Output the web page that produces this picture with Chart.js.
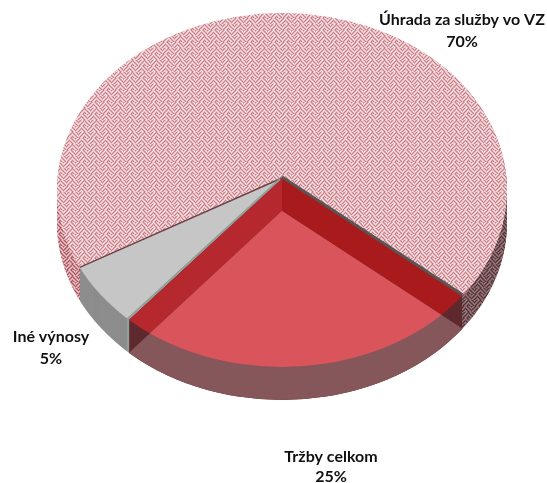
<!DOCTYPE html>
<html><head><meta charset="utf-8">
<style>html,body{margin:0;padding:0;background:#fff}canvas{display:block}</style>
<script src="https://cdn.jsdelivr.net/npm/chart.js@4"></script>
</head><body><canvas id="c" width="547" height="483"></canvas>
<script>
const categories = ["Úhrada za služby vo VZ", "Tržby celkom", "Iné výnosy"];
const shares = [70, 25, 5];
const percentLabels = ["70%", "25%", "5%"];

const firstAngle = 238, depth = 33;
const rimDY = 12, rimRX = 225, rimRY = 177;            // the drawn rim, lower than the apex (perspective)
const overscan = 1.18;
const labelSpots = [{x:462,y:20,py:42},{x:331,y:457,py:477},{x:51,y:337,py:359}];

function tile(dark, mid, light){
  const t = document.createElement('canvas'); t.width = 12; t.height = 12;
  const g = t.getContext('2d');
  const cols = [dark, mid, light, mid];
  for (let x=0;x<12;x++) for (let y=0;y<12;y++){
    const xx = x + (Math.floor(y/6)%2)*3;
    const odd = Math.floor(xx/6)%2===1;
    const p = (odd ? xx+y : xx-y+24) % 4;
    g.fillStyle = cols[p]; g.fillRect(x,y,1,1);
  }
  return t;
}

const pie3d = {
  id:'pie3d',
  beforeDatasetsDraw(chart){
    const ctx = chart.ctx, arcs = chart.getDatasetMeta(0).data;
    const [big, red, gray] = arcs;
    const cx = big.x, cy = big.y, R = big.outerRadius;
    const topTile = tile('#c87f88','#e6b8bd','#f6e2e4');
    const sideL = tile('#a8555e','#cf9097','#eac6ca');
    const sideR = tile('#4a3639','#7a575b','#9c787c');

    // each slice keeps its own stretch of the circle: [x stretch, shear, y stretch, above/below apex, left/right of apex]
    const sheared = {w:290, k:45.6, ry:185};
    const looks = new Map([
      [big,  [{w:225,k:0,ry:165,side:-1},{...sheared,side:1,half:0},{w:225,k:0,ry:185,side:1,half:1}]],
      [red,  [{w:238,k:0,ry:185,side:1}]],
      [gray, [{...sheared,side:1}]]
    ]);

    function rimClip(dy){
      ctx.beginPath();
      ctx.ellipse(cx, cy+rimDY+dy, rimRX, rimRY, 0, 0, Math.PI*2);
      ctx.clip();
    }
    function xRange(h){
      return h===0 ? [0,cx] : h===1 ? [cx,chart.width-cx] : [0,chart.width];
    }
    function paint(el, fill, dy, half){
      const o = el.options;
      looks.get(el).forEach(L=>{
        if (half!==undefined && L.half!==undefined && half!==L.half) return;
        const yy = cy+dy, side = L.side;
        const h = L.half!==undefined ? L.half : half;
        ctx.save();
        rimClip(dy);
        ctx.beginPath();
        const [x0,w] = xRange(h);
        ctx.rect(x0, side<0?0:yy, w, side<0?yy:chart.height-yy);
        ctx.clip();
        const f = overscan/R;
        const T = new DOMMatrix().translate(cx,yy)
          .multiply(new DOMMatrix([L.w*f,0,L.k*f,L.ry*f,0,0])).translate(-cx,-cy);
        let bg = fill;
        if (fill instanceof HTMLCanvasElement){
          bg = ctx.createPattern(fill,'repeat');
          bg.setTransform(T.inverse());
        }
        el.options = Object.assign({}, o, {backgroundColor:bg, borderWidth:0});
        ctx.transform(T.a,T.b,T.c,T.d,T.e,T.f);
        el.draw(ctx);
        ctx.restore();
      });
      el.options = o;
    }
    function wedgeClip(el, dy){
      const L = looks.get(el)[0], f = overscan/R;
      ctx.save();
      ctx.translate(cx,cy+dy); ctx.scale(L.w*f,L.ry*f); ctx.translate(-cx,-cy);
      ctx.beginPath(); ctx.moveTo(cx,cy);
      ctx.arc(cx,cy,R,el.startAngle,el.endAngle); ctx.closePath();
      ctx.restore();
      ctx.clip();
    }
    function corner(el, ang){
      const L = looks.get(el)[0];
      const dx = Math.cos(ang)*L.w + Math.sin(ang)*L.k, dy = Math.sin(ang)*L.ry;
      const a = dx*dx/(rimRX*rimRX)+dy*dy/(rimRY*rimRY);
      const b = -2*dy*rimDY/(rimRY*rimRY);
      const c = rimDY*rimDY/(rimRY*rimRY)-1;
      const t = (-b+Math.sqrt(b*b-4*a*c))/(2*a);
      return [cx+dx*t, cy+dy*t];
    }

    for (let t=depth;t>=1;t--){
      paint(big, sideL, t, 0);
      paint(big, sideR, t, 1);
    }
    for (let t=depth;t>=1;t--) paint(gray, '#8d8d8d', t);

    paint(big, topTile, 0);
    paint(gray, '#c5c6c5', 0);

    // red slab: sweep, walls, side, face
    for (let t=depth;t>=0;t--) paint(red, '#5f2a2e', t);
    paint(red, '#b4282e', 0, 0);
    paint(red, '#a91a1d', 0, 1);
    paint(red, '#85565a', depth);
    ctx.save();
    rimClip(0);
    wedgeClip(red, 0);
    paint(red, '#d9555b', depth);
    ctx.restore();

    // edges of the cuts
    const a = corner(gray, big.startAngle), b = corner(red, big.endAngle), c = corner(red, red.endAngle);
    ctx.save();
    ctx.strokeStyle='#5c5353'; ctx.lineWidth=3;
    ctx.beginPath(); ctx.moveTo(cx,cy-1); ctx.lineTo(b[0],b[1]-1); ctx.stroke();
    ctx.strokeStyle='#6e4449'; ctx.lineWidth=1.5;
    ctx.beginPath(); ctx.moveTo(cx,cy); ctx.lineTo(a[0],a[1]); ctx.stroke();
    ctx.strokeStyle='#8fa09b'; ctx.lineWidth=2;
    ctx.beginPath(); ctx.moveTo(cx-2,cy+1); ctx.lineTo(c[0]-1,c[1]-1); ctx.lineTo(c[0]-1,c[1]+depth-2); ctx.stroke();
    ctx.restore();

    // labels
    ctx.save();
    ctx.fillStyle='#111'; ctx.textAlign='center'; ctx.textBaseline='middle';
    ctx.font='bold 16px Lato';
    categories.forEach((n,i)=>{
      ctx.fillText(n, labelSpots[i].x, labelSpots[i].y);
      ctx.fillText(percentLabels[i], labelSpots[i].x, labelSpots[i].py);
    });
    ctx.restore();
    return false;
  }
};

new Chart(document.getElementById('c'), {
  type:'pie',
  data:{labels:categories, datasets:[{data:shares, backgroundColor:['#e6b4b9','#d9555b','#c5c6c5'], borderWidth:0}]},
  options:{
    responsive:false, animation:false, rotation:firstAngle,
    layout:{padding:{left:17,right:0,top:0,bottom:127}},
    plugins:{legend:{display:false},tooltip:{enabled:false},title:{display:false}}
  },
  plugins:[pie3d]
});
</script></body></html>
